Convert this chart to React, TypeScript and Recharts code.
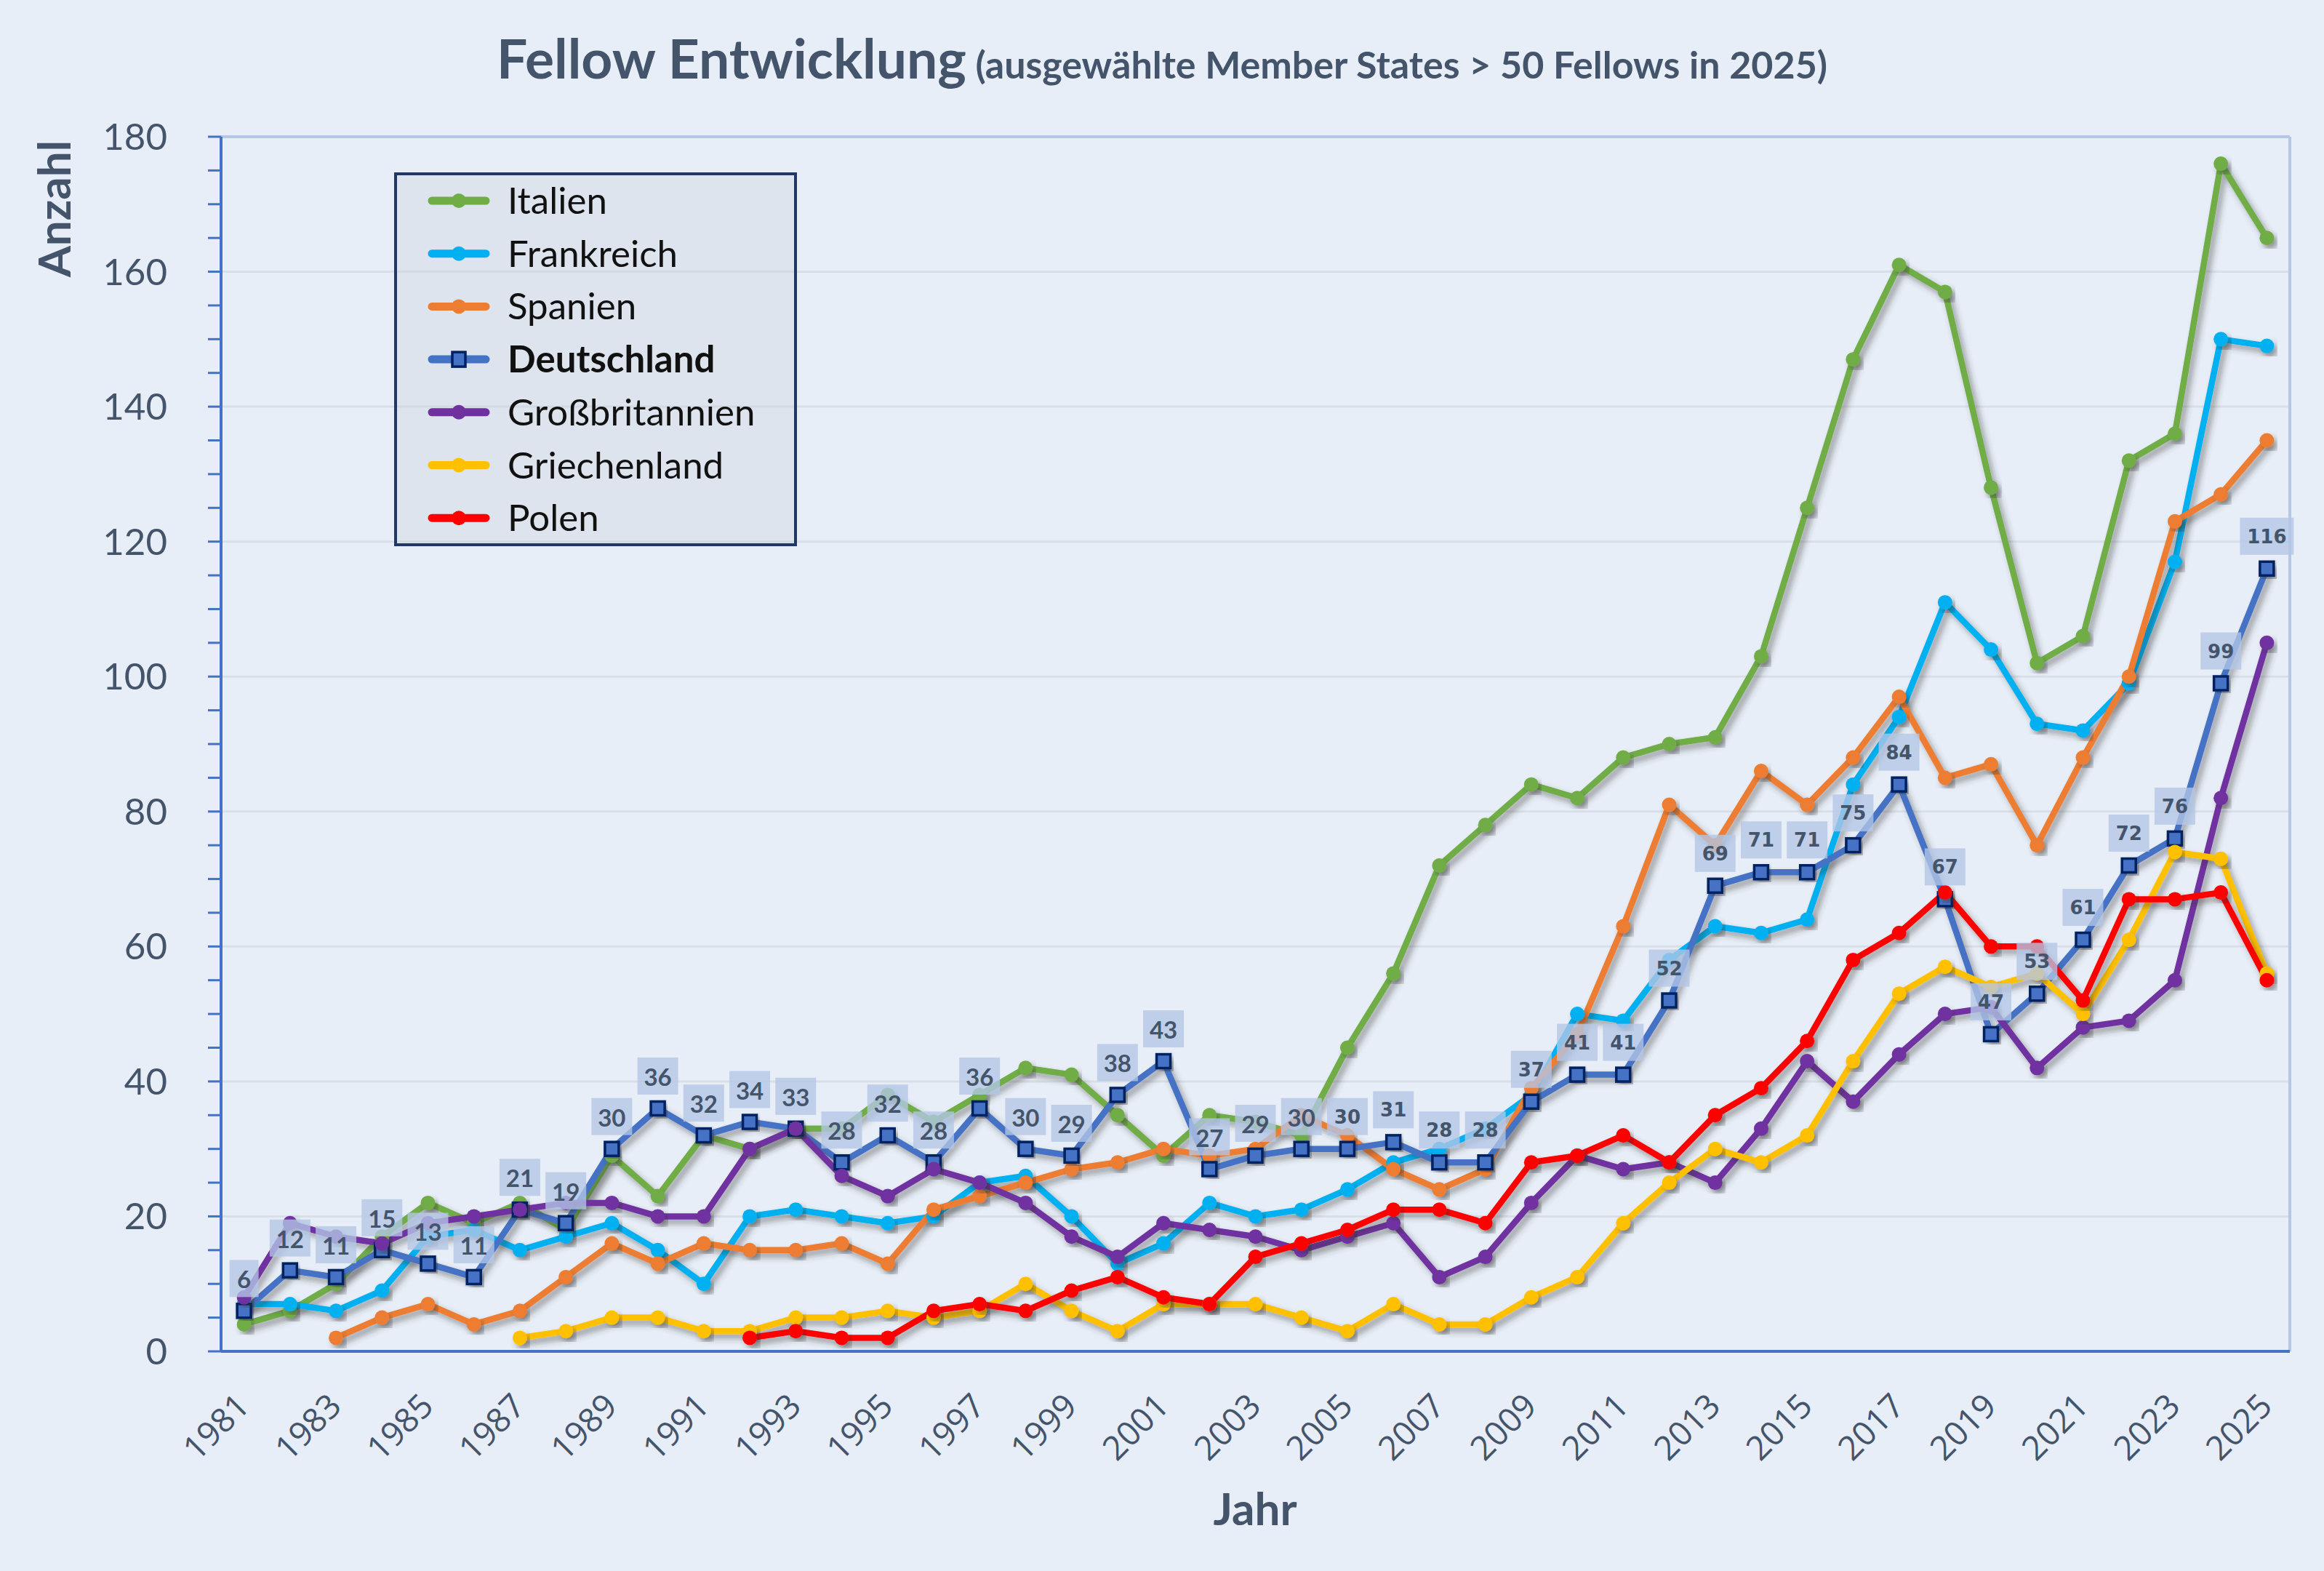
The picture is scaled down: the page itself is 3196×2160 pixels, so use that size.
import React from 'react'
import { LineChart, Line, XAxis, YAxis, CartesianGrid, ReferenceLine } from 'recharts'

const years = [
  1981, 1982, 1983, 1984, 1985, 1986, 1987, 1988, 1989, 1990,
  1991, 1992, 1993, 1994, 1995, 1996, 1997, 1998, 1999, 2000,
  2001, 2002, 2003, 2004, 2005, 2006, 2007, 2008, 2009, 2010,
  2011, 2012, 2013, 2014, 2015, 2016, 2017, 2018, 2019, 2020,
  2021, 2022, 2023, 2024, 2025,
]
const labelYears = [
  1981, 1983, 1985, 1987, 1989, 1991, 1993, 1995, 1997, 1999, 2001, 2003,
  2005, 2007, 2009, 2011, 2013, 2015, 2017, 2019, 2021, 2023, 2025,
]
const majorTicks = [0, 20, 40, 60, 80, 100, 120, 140, 160, 180]
const minorTicks = [
  0, 5, 10, 15, 20, 25, 30, 35, 40, 45, 50, 55, 60, 65, 70, 75, 80, 85, 90,
  95, 100, 105, 110, 115, 120, 125, 130, 135, 140, 145, 150, 155, 160, 165,
  170, 175, 180,
]

const italien = [
  4, 6, 10, 17, 22, 19, 22, 18, 29, 23, 32, 30, 33, 33, 38, 34, 38, 42, 41, 35,
  29, 35, 34, 32, 45, 56, 72, 78, 84, 82, 88, 90, 91, 103, 125, 147, 161, 157, 128, 102,
  106, 132, 136, 176, 165,
]
const frankreich = [
  7, 7, 6, 9, 17, 18, 15, 17, 19, 15, 10, 20, 21, 20, 19, 20, 25, 26, 20, 13,
  16, 22, 20, 21, 24, 28, 30, 33, 38, 50, 49, 58, 63, 62, 64, 84, 94, 111, 104, 93,
  92, 99, 117, 150, 149,
]
const spanien = [
  null, null, 2, 5, 7, 4, 6, 11, 16, 13, 16, 15, 15, 16, 13, 21, 23, 25, 27, 28,
  30, 29, 30, 35, 32, 27, 24, 27, 39, 47, 63, 81, 75, 86, 81, 88, 97, 85, 87, 75,
  88, 100, 123, 127, 135,
]
const deutschland = [
  6, 12, 11, 15, 13, 11, 21, 19, 30, 36, 32, 34, 33, 28, 32, 28, 36, 30, 29, 38,
  43, 27, 29, 30, 30, 31, 28, 28, 37, 41, 41, 52, 69, 71, 71, 75, 84, 67, 47, 53,
  61, 72, 76, 99, 116,
]
const grossbritannien = [
  8, 19, 17, 16, 19, 20, 21, 22, 22, 20, 20, 30, 33, 26, 23, 27, 25, 22, 17, 14,
  19, 18, 17, 15, 17, 19, 11, 14, 22, 29, 27, 28, 25, 33, 43, 37, 44, 50, 51, 42,
  48, 49, 55, 82, 105,
]
const griechenland = [
  null, null, null, null, null, null, 2, 3, 5, 5, 3, 3, 5, 5, 6, 5, 6, 10, 6, 3,
  7, 7, 7, 5, 3, 7, 4, 4, 8, 11, 19, 25, 30, 28, 32, 43, 53, 57, 54, 56,
  50, 61, 74, 73, 56,
]
const polen = [
  null, null, null, null, null, null, null, null, null, null, null, 2, 3, 2, 2, 6, 7, 6, 9, 11,
  8, 7, 14, 16, 18, 21, 21, 19, 28, 29, 32, 28, 35, 39, 46, 58, 62, 68, 60, 60,
  52, 67, 67, 68, 55,
]

const series = [
  { key: 'italien', name: 'Italien', color: '#70AD47', values: italien },
  { key: 'frankreich', name: 'Frankreich', color: '#00B0F0', values: frankreich },
  { key: 'spanien', name: 'Spanien', color: '#ED7D31', values: spanien },
  { key: 'deutschland', name: 'Deutschland', color: '#4472C4', values: deutschland },
  { key: 'grossbritannien', name: 'Großbritannien', color: '#7030A0', values: grossbritannien },
  { key: 'griechenland', name: 'Griechenland', color: '#FFC000', values: griechenland },
  { key: 'polen', name: 'Polen', color: '#FF0000', values: polen },
]

const data = years.map((year, i) => {
  const row: Record<string, number | null> = { year }
  series.forEach((s) => {
    row[s.key] = s.values[i]
  })
  return row
})

const W = 3196
const H = 2160
const TEXT = '#44546A'
const AXIS = '#4472C4'
const xDomain = [years[0] - 0.5, years[years.length - 1] + 0.5]
const bounds = [...years.map((y) => y - 0.5), years[years.length - 1] + 0.5]

const circleDot = (color: string) => (p: any) => {
  if (p.cx == null || p.cy == null || p.value == null) return <g key={p.index} />
  return <circle key={p.index} cx={p.cx} cy={p.cy} r={10} fill={color} filter="url(#shadow)" />
}

const squareDot = (p: any) => {
  if (p.cx == null || p.cy == null || p.value == null) return <g key={p.index} />
  return (
    <rect
      key={p.index}
      x={p.cx - 9.5}
      y={p.cy - 9.5}
      width={19}
      height={19}
      fill="#4472C4"
      stroke="#002060"
      strokeWidth={3.5}
      filter="url(#shadow)"
    />
  )
}

// value boxes above the Deutschland squares
const DeLabel = (p: any) => {
  const { x, y, value, index } = p
  if (value == null) return null
  const txt = String(value)
  const w = txt.length > 2 ? 74 : txt.length > 1 ? 56 : 40
  const late = index >= 24
  return (
    <g>
      <rect x={x - w / 2} y={y - 70} width={w} height={51} fill="#B4C7E7" fillOpacity={0.78} />
      <text
        x={x}
        y={y - 44}
        textAnchor="middle"
        dominantBaseline="central"
        fill={TEXT}
        fontFamily={late ? 'DejaVu Sans' : 'Lato'}
        fontWeight="bold"
        fontSize={late ? 26 : 33}
      >
        {txt}
      </text>
    </g>
  )
}

const YTick = (p: any) => {
  const v = p.payload?.value
  if (!majorTicks.includes(v)) return <g />
  return (
    <text x={p.x} y={p.y + 18} textAnchor="end" fill={TEXT} fontFamily="Lato" fontSize={51}>
      {v}
    </text>
  )
}

const YearTick = (p: any) => {
  const px = p.x + 10
  const py = p.y + 77
  return (
    <text
      x={px}
      y={py}
      textAnchor="end"
      transform={`rotate(-45, ${px}, ${py})`}
      fill={TEXT}
      fontFamily="Open Sans"
      fontSize={46}
    >
      {p.payload?.value}
    </text>
  )
}

function LegendBox() {
  const left = 544
  const top = 239
  return (
    <g>
      <rect x={left} y={top} width={550} height={510} fill="#C8D0DA" fillOpacity={0.35} stroke="#1F3864" strokeWidth={4} />
      {series.map((s, i) => {
        const cy = 276 + i * 72.7
        return (
          <g key={s.key}>
            <line x1={594} x2={668} y1={cy} y2={cy} stroke={s.color} strokeWidth={11} strokeLinecap="round" />
            {s.key === 'deutschland' ? (
              <rect x={622} y={cy - 10} width={18} height={20} fill="#4472C4" stroke="#002060" strokeWidth={3.5} />
            ) : (
              <circle cx={631} cy={cy} r={10} fill={s.color} />
            )}
            <text
              x={698}
              y={cy + 18}
              fontFamily="Lato"
              fontSize={51}
              fontWeight={s.key === 'deutschland' ? 'bold' : 'normal'}
              fill="#111"
            >
              {s.name}
            </text>
          </g>
        )
      })}
    </g>
  )
}

export default function App() {
  return (
    <div style={{ position: 'relative', width: W, height: H, background: '#E8EEF7' }}>
      <style>{'body{margin:0}'}</style>
      <LineChart
        width={W}
        height={H}
        data={data}
        margin={{ top: 188, right: 47, left: 154, bottom: 101 }}
      >
        <CartesianGrid
          xAxisId="bounds"
          yAxisId="val"
          horizontalValues={majorTicks}
          stroke="#D9DFE8"
          strokeWidth={3}
        />
        <XAxis
          xAxisId="bounds"
          type="number"
          dataKey="year"
          domain={xDomain}
          ticks={bounds}
          interval={0}
          allowDecimals
          tick={false}
          tickSize={20}
          height={1}
          axisLine={{ stroke: AXIS, strokeWidth: 4 }}
          tickLine={{ stroke: AXIS, strokeWidth: 3 }}
        />
        <XAxis
          xAxisId="lab"
          type="number"
          dataKey="year"
          domain={xDomain}
          ticks={labelYears}
          interval={0}
          axisLine={false}
          tickLine={false}
          tickSize={0}
          tickMargin={0}
          height={200}
          tick={<YearTick />}
        />
        <YAxis
          yAxisId="val"
          type="number"
          domain={[0, 180]}
          ticks={minorTicks}
          interval={0}
          width={150}
          tickSize={18}
          tickMargin={56}
          axisLine={{ stroke: AXIS, strokeWidth: 4 }}
          tickLine={{ stroke: AXIS, strokeWidth: 3 }}
          tick={<YTick />}
        />
        <ReferenceLine xAxisId="lab" yAxisId="val" y={180} stroke="#B4C7E7" strokeWidth={4} />
        <ReferenceLine xAxisId="lab" yAxisId="val" x={xDomain[1]} stroke="#B4C7E7" strokeWidth={4} />
        {series.map((s) => (
          <Line
            key={s.key}
            xAxisId="lab"
            yAxisId="val"
            type="linear"
            dataKey={s.key}
            name={s.name}
            stroke={s.color}
            strokeWidth={8.5}
            strokeLinejoin="round"
            filter="url(#shadow)"
            dot={s.key === 'deutschland' ? squareDot : circleDot(s.color)}
            activeDot={false}
            label={s.key === 'deutschland' ? DeLabel : undefined}
            isAnimationActive={false}
          />
        ))}
      </LineChart>
      <svg width={W} height={H} style={{ position: 'absolute', left: 0, top: 0, pointerEvents: 'none' }}>
        <defs>
          <filter id="shadow" x="-20%" y="-20%" width="140%" height="140%">
            <feDropShadow dx={5} dy={6} stdDeviation={4} floodColor="#303030" floodOpacity={0.45} />
          </filter>
        </defs>
        <text x={1598} y={108} textAnchor="middle" fill={TEXT} fontFamily="Lato" fontWeight="bold">
          <tspan fontSize={75}>Fellow Entwicklung</tspan>
          <tspan fontSize={52}> (ausgewählte Member States &gt; 50 Fellows in 2025)</tspan>
        </text>
        <text
          x={97}
          y={287}
          textAnchor="middle"
          transform="rotate(-90, 97, 287)"
          fill={TEXT}
          fontFamily="Lato"
          fontWeight="bold"
          fontSize={62}
        >
          Anzahl
        </text>
        <text x={1726} y={2097} textAnchor="middle" fill={TEXT} fontFamily="Lato" fontWeight="bold" fontSize={62}>
          Jahr
        </text>
        <LegendBox />
      </svg>
    </div>
  )
}
